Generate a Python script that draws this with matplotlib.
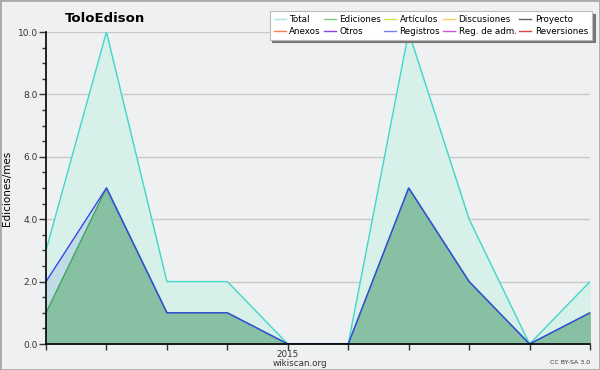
import matplotlib as mpl
mpl.use('Agg')
import matplotlib.pyplot as plt
from matplotlib.lines import Line2D
from matplotlib.patches import Rectangle

# valores mensuales
months = list(range(10))
total = [3, 10, 2, 2, 0, 0, 10, 4, 0, 2]
registros = [2, 5, 1, 1, 0, 0, 5, 2, 0, 1]
ediciones = [1, 5, 1, 1, 0, 0, 5, 2, 0, 1]
year_label = '2015'
year_pos = 4

legend_names = ['Total', 'Anexos', 'Ediciones', 'Otros', 'Artículos', 'Registros',
                'Discusiones', 'Reg. de adm.', 'Proyecto', 'Reversiones']
legend_colors = ['#a8e4e0', '#f08050', '#80c880', '#9040e0', '#c8e850', '#7080f0',
                 '#f8d060', '#d050e0', '#606060', '#e04040']

bg = '#eff0f1'
fig = plt.figure(figsize=(6.0, 3.7), dpi=100, facecolor=bg)
fig.patches.append(Rectangle((0, 0), 1, 1, transform=fig.transFigure, fill=False,
                             edgecolor='#aaaaaa', linewidth=2))
ax = fig.add_axes([46 / 600, 26 / 370, 544 / 600, 312 / 370])
ax.set_facecolor(bg)

ax.fill_between(months, total, color='#d8f0ea')
ax.plot(months, total, color='#40d8c8', linewidth=1)
ax.fill_between(months, registros, color='#c0dae6')
ax.fill_between(months, ediciones, color='#88c0a4')
ax.plot(months, ediciones, color='#40a858', linewidth=1)
ax.plot(months, registros, color='#3848e8', linewidth=1)

ax.set_xlim(0, 9)
ax.set_ylim(0, 10)
ax.set_yticks([0, 2, 4, 6, 8, 10])
ax.set_yticklabels(['0.0', '2.0', '4.0', '6.0', '8.0', '10.0'])
ax.set_yticks([v * 0.5 for v in range(21)], minor=True)
ax.set_xticks(months)
ax.set_xticklabels([year_label if m == year_pos else '' for m in months])
ax.tick_params(axis='both', labelsize=6.5, colors='#333333', length=5, width=1, pad=1)
ax.tick_params(axis='x', length=4, pad=0, labelsize=6.3)
ax.tick_params(axis='y', which='minor', length=3, width=1, colors='#333333')
ax.grid(axis='y', color='#c8c8c8', linewidth=1)
ax.set_axisbelow(True)
for s in ['top', 'right']:
    ax.spines[s].set_visible(False)
for s in ['left', 'bottom']:
    ax.spines[s].set_linewidth(1.2)
ax.set_ylabel('Ediciones/mes', fontsize=7.5, labelpad=4)

fig.text(105 / 600, 1 - 18 / 370, 'ToloEdison', fontsize=9.5, fontweight='bold',
         ha='center', va='center')
fig.text(300 / 600, 1 - 364 / 370, 'wikiscan.org', fontsize=6.3, ha='center', va='center',
         color='#333333')
fig.text(590 / 600, 1 - 362 / 370, 'CC BY-SA 3.0', fontsize=4.5, ha='right', va='center',
         color='#333333')

handles = [Line2D([], [], color=c, linewidth=1) for c in legend_colors]
leg = fig.legend(handles, legend_names, ncol=5, fontsize=6.3, loc='upper right',
                 bbox_to_anchor=(592 / 600, 1 - 11 / 370), frameon=True, fancybox=False,
                 shadow={'color': '#777777', 'alpha': 1}, framealpha=1,
                 edgecolor='#bbbbbb', handlelength=1.4, handletextpad=0.4,
                 columnspacing=0.3, labelspacing=0.3, borderpad=0.45,
                 borderaxespad=0)
leg.get_frame().set_linewidth(0.8)

plt.savefig('out.png', facecolor=bg)
plt.close()
